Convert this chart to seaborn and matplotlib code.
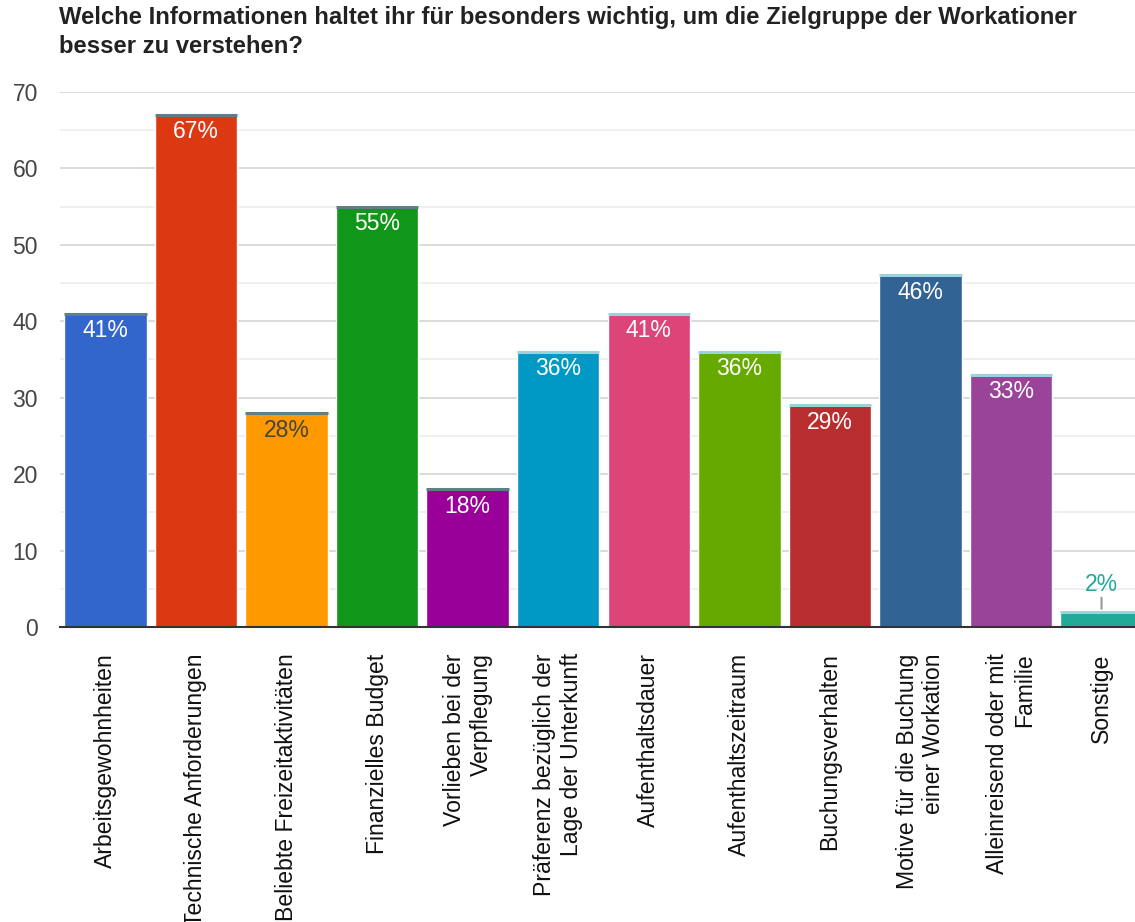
import matplotlib
matplotlib.use("Agg")
import matplotlib.pyplot as plt
import seaborn as sns
import pandas as pd

# Survey answers (share of respondents, %)
categories = [
    "Arbeitsgewohnheiten",
    "Technische Anforderungen",
    "Beliebte Freizeitaktivitäten",
    "Finanzielles Budget",
    "Vorlieben bei der\nVerpflegung",
    "Präferenz bezüglich der\nLage der Unterkunft",
    "Aufenthaltsdauer",
    "Aufenthaltszeitraum",
    "Buchungsverhalten",
    "Motive für die Buchung\neiner Workation",
    "Alleinreisend oder mit\nFamilie",
    "Sonstige",
]
values = [41, 67, 28, 55, 18, 36, 41, 36, 29, 46, 33, 2]
bar_colors = ["#3366CC", "#DC3912", "#FF9900", "#109618", "#990099", "#0099C6",
              "#DD4477", "#66AA00", "#B82E2E", "#316395", "#994499", "#22AA99"]
label_colors = ["white", "white", "#444444", "white", "white", "white",
                "white", "white", "white", "white", "white", "#22AA99"]
title = ("Welche Informationen haltet ihr für besonders wichtig, um die Zielgruppe der Workationer\n"
         "besser zu verstehen?")

sns.set_theme(style="white")
plt.rcParams["font.family"] = ["Liberation Sans", "DejaVu Sans"]

df = pd.DataFrame({"kategorie": categories, "wert": values})

fig = plt.figure(figsize=(11.35, 9.22), dpi=100)
ax = fig.add_axes([0.0530, 0.3200, 0.9574, 0.5803])

sns.barplot(data=df, x="kategorie", y="wert", hue="kategorie",
            palette=bar_colors, width=0.91, legend=False, ax=ax, saturation=1)

ax.set_ylim(0, 70)
ax.set_xlim(-0.5, len(categories) - 0.5)
ax.set_yticks(range(0, 71, 10))
ax.set_yticks(range(5, 70, 10), minor=True)
ax.grid(axis="y", which="major", color="#d4d4d4", linewidth=1.2, zorder=0)
ax.grid(axis="y", which="minor", color="#ececec", linewidth=1.2, zorder=0)
ax.set_axisbelow(True)
for s in ["top", "right", "left"]:
    ax.spines[s].set_visible(False)
ax.spines["bottom"].set_color("#333333")
ax.spines["bottom"].set_linewidth(1.5)
ax.set_xlabel("")
ax.set_ylabel("")

ax.tick_params(axis="y", which="both", length=0, pad=16, labelsize=16.5, labelcolor="#444444")
ax.tick_params(axis="x", length=0, pad=19)
ax.set_xticks(range(len(categories)))
ax.set_xticklabels(categories, rotation=90, ha="center", va="top",
                   fontsize=16.6, color="#111111", multialignment="right")

# thin rim along the top of each bar
bars = ax.patches
for i, b in enumerate(bars):
    rim = "#5f8080" if i < 5 else "#9ad3dc"
    ax.hlines(b.get_height(), b.get_x(), b.get_x() + b.get_width(),
              colors=rim, linewidth=2.2, zorder=3)

# value labels
for b, v, c in zip(bars, values, label_colors):
    xc = b.get_x() + b.get_width() / 2
    if v < 10:
        ax.annotate("", xy=(xc, v), xytext=(xc, v + 2.2),
                    arrowprops=dict(arrowstyle="-", color="#999999", lw=1.5))
        ax.annotate(f"{v}%", (xc, v), xytext=(0, 11), textcoords="offset points",
                    ha="center", va="bottom", fontsize=16.5, color=c)
    else:
        ax.annotate(f"{v}%", (xc, v), xytext=(0, -4), textcoords="offset points",
                    ha="center", va="top", fontsize=16.5, color=c, zorder=4)

fig.text(0.052, 0.993, title, ha="left", va="top", fontsize=17.2,
         fontweight="bold", color="#222222", linespacing=1.3)

fig.savefig("out.png", dpi=100, facecolor="white")
